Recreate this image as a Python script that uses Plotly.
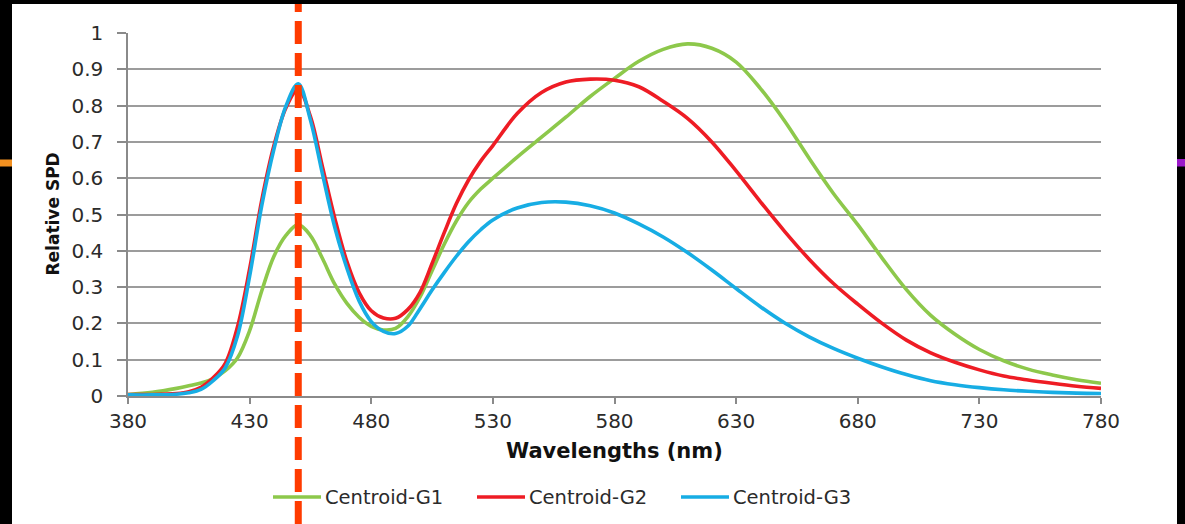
import plotly.graph_objects as go

# Spectral power distributions (relative) of the three centroid spectra
wavelength = [380, 390, 400, 405, 410, 415, 420, 425, 430, 435, 440, 445, 450, 455,
              460, 465, 470, 475, 480, 485, 490, 495, 500, 505, 510, 515, 520, 525,
              530, 540, 550, 560, 570, 580, 590, 600, 610, 620, 630, 640, 650, 660,
              670, 680, 690, 700, 710, 720, 730, 740, 750, 760, 770, 780]

centroid_g1 = [0.004, 0.010, 0.021, 0.028, 0.036, 0.048, 0.070, 0.105, 0.180, 0.290,
               0.385, 0.443, 0.472, 0.442, 0.378, 0.308, 0.255, 0.217, 0.192, 0.182,
               0.186, 0.218, 0.272, 0.345, 0.418, 0.482, 0.533, 0.570,
               0.600, 0.658, 0.713, 0.768, 0.825,
               0.875, 0.922, 0.955, 0.970, 0.958, 0.920, 0.847, 0.757, 0.655,
               0.558, 0.472, 0.380, 0.293, 0.222, 0.170, 0.128, 0.097, 0.074, 0.058,
               0.045, 0.035]

centroid_g2 = [0.004, 0.004, 0.007, 0.012, 0.024, 0.050, 0.090, 0.190, 0.350, 0.540,
               0.690, 0.795, 0.845, 0.770, 0.630, 0.490, 0.370, 0.285, 0.235, 0.215,
               0.214, 0.238, 0.285, 0.365, 0.450, 0.530, 0.595, 0.647,
               0.690, 0.778, 0.836, 0.865, 0.873,
               0.870, 0.852, 0.812, 0.765, 0.700, 0.620, 0.535, 0.453, 0.377,
               0.310, 0.253, 0.200, 0.154, 0.119, 0.093, 0.072, 0.055, 0.044, 0.035,
               0.027, 0.021]

centroid_g3 = [0.003, 0.003, 0.005, 0.009, 0.018, 0.042, 0.078, 0.165, 0.330, 0.525,
               0.680, 0.800, 0.860, 0.760, 0.610, 0.465, 0.352, 0.262, 0.205, 0.178,
               0.172, 0.192, 0.240, 0.292, 0.340, 0.385, 0.425, 0.458,
               0.485, 0.518, 0.533, 0.534, 0.524,
               0.504, 0.474, 0.438, 0.395, 0.347, 0.296, 0.246, 0.201, 0.163,
               0.131, 0.104, 0.080, 0.059, 0.042, 0.031, 0.023, 0.017, 0.013, 0.010,
               0.008, 0.007]

series_names = ["Centroid-G1", "Centroid-G2", "Centroid-G3"]
series_values = [centroid_g1, centroid_g2, centroid_g3]
series_colors = ["#8DC84B", "#EE1C24", "#17ADE4"]

x_tick_values = [380, 430, 480, 530, 580, 630, 680, 730, 780]
y_tick_values = [0, 0.1, 0.2, 0.3, 0.4, 0.5, 0.6, 0.7, 0.8, 0.9, 1]
y_tick_labels = ["0", "0.1", "0.2", "0.3", "0.4", "0.5", "0.6", "0.7", "0.8", "0.9", "1"]

marker_wavelength = 450  # highlighted blue-peak wavelength

# Figure geometry (pixels)
W, H = 1185, 524
ML, MR, MT, MB = 128, 84, 33, 128
PW, PH = W - ML - MR, H - MT - MB


def fx(px):
    """pixel x -> paper x"""
    return (px - ML) / PW


def fy(py):
    """pixel y -> paper y"""
    return (H - MB - py) / PH


FONT = "DejaVu Sans"
TEXT = "#2b2b2b"
AXIS = "#8a8a8a"

fig = go.Figure()
for name, vals, color in zip(series_names, series_values, series_colors):
    fig.add_trace(go.Scatter(
        x=wavelength, y=vals, name=name, mode="lines",
        line=dict(color=color, width=3.6, shape="spline", smoothing=1.0),
        showlegend=False, hoverinfo="skip",
    ))

shapes = [
    # white card on the black page
    dict(type="rect", xref="paper", yref="paper", layer="below",
         x0=fx(12), x1=fx(1177), y0=fy(4), y1=fy(H + 2),
         fillcolor="white", line=dict(width=0)),
    # small side accents
    dict(type="rect", xref="paper", yref="paper",
         x0=fx(0), x1=fx(12), y0=fy(166.5), y1=fy(159.5),
         fillcolor="#F39020", line=dict(width=0)),
    dict(type="rect", xref="paper", yref="paper",
         x0=fx(1177), x1=fx(W), y0=fy(166.5), y1=fy(159),
         fillcolor="#9B19C9", line=dict(width=0)),
    # dashed marker at the blue peak, running the full card height
    dict(type="line", xref="x", yref="paper",
         x0=marker_wavelength, x1=marker_wavelength, y0=fy(H), y1=fy(4),
         line=dict(color="#FF3B00", width=7, dash="23px,9px")),
]

annotations = [
    dict(text="<b>Wavelengths (nm)</b>", xref="paper", yref="paper",
         x=0.5, y=fy(451), xanchor="center", yanchor="middle", showarrow=False,
         font=dict(family=FONT, size=21, color="#111")),
    dict(text="<b>Relative SPD</b>", xref="paper", yref="paper",
         x=fx(52), y=0.5, xanchor="center", yanchor="middle", showarrow=False,
         textangle=-90, font=dict(family=FONT, size=17, color="#111")),
]

# legend row: short line sample followed by the series name
legend_line_x = [273, 477, 681]
for name, color, lx in zip(series_names, series_colors, legend_line_x):
    shapes.append(dict(type="line", xref="paper", yref="paper",
                       x0=fx(lx), x1=fx(lx + 48), y0=fy(497), y1=fy(497),
                       line=dict(color=color, width=3.6)))
    annotations.append(dict(text=name, xref="paper", yref="paper",
                            x=fx(lx + 50), y=fy(497), xanchor="left", yanchor="middle",
                            showarrow=False, font=dict(family=FONT, size=19.5, color=TEXT)))

fig.update_layout(
    width=W, height=H,
    margin=dict(l=ML, r=MR, t=MT, b=MB, pad=0),
    paper_bgcolor="black", plot_bgcolor="white",
    font=dict(family=FONT, color=TEXT),
    showlegend=False,
    shapes=shapes, annotations=annotations,
    xaxis=dict(range=[380, 780], tickvals=x_tick_values, ticks="outside", ticklen=6,
               tickcolor=AXIS, tickwidth=1.5, showline=True, linecolor=AXIS, linewidth=1.5,
               showgrid=False, zeroline=False, tickfont=dict(family=FONT, size=20, color=TEXT)),
    yaxis=dict(range=[0, 1], tickvals=y_tick_values, ticktext=y_tick_labels, ticks="outside",
               ticklen=9, tickcolor=AXIS, tickwidth=1.5, showline=True, linecolor=AXIS,
               linewidth=1.5, showgrid=True, gridcolor="#9c9c9c", gridwidth=1.5,
               zeroline=False, ticklabelstandoff=10,
               tickfont=dict(family=FONT, size=20, color=TEXT)),
)

fig.write_html("out.html", config={"displayModeBar": False})
